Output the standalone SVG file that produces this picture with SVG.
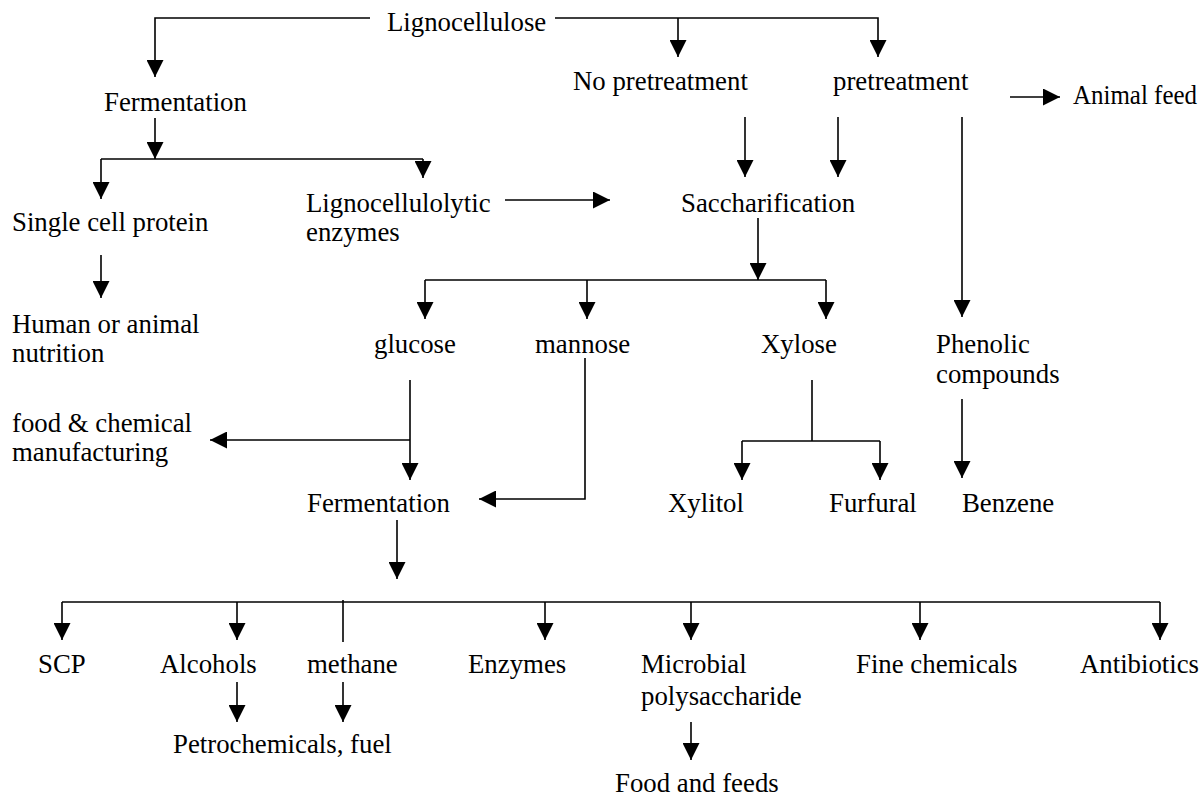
<svg xmlns="http://www.w3.org/2000/svg" width="1204" height="797" viewBox="0 0 1204 797">
<defs>
<style>
.c line,.c polyline{stroke:#000;stroke-width:1.6;fill:none}
.a{marker-end:url(#ah)}
</style>
<marker id="ah" markerUnits="userSpaceOnUse" markerWidth="17" markerHeight="17" viewBox="0 0 17 17" refX="17" refY="8.5" orient="auto">
<path d="M0,0 L17,8.5 L0,17 z" fill="#000"/>
</marker>
</defs>
<rect width="1204" height="797" fill="#fff"/>
<g class="c" id="connectors">
<polyline points="370,18 155,18 155,77" class="a"/>
<polyline points="555,18 878,18 878,57" class="a"/>
<line x1="678" y1="18" x2="678" y2="57" class="a"/>
<line x1="1010" y1="97" x2="1060" y2="97" class="a"/>
<line x1="155" y1="118" x2="155" y2="159" class="a"/>
<line x1="101" y1="159" x2="423" y2="159"/>
<line x1="101" y1="159" x2="101" y2="199" class="a"/>
<line x1="423" y1="159" x2="423" y2="178" class="a"/>
<line x1="101" y1="255" x2="101" y2="298" class="a"/>
<line x1="505" y1="200" x2="610" y2="200" class="a"/>
<line x1="745" y1="117" x2="745" y2="177" class="a"/>
<line x1="838" y1="117" x2="838" y2="177" class="a"/>
<line x1="962" y1="117" x2="962" y2="317" class="a"/>
<line x1="758" y1="218" x2="758" y2="280" class="a"/>
<line x1="425" y1="280" x2="826" y2="280"/>
<line x1="425" y1="280" x2="425" y2="319" class="a"/>
<line x1="587" y1="280" x2="587" y2="319" class="a"/>
<line x1="826" y1="280" x2="826" y2="319" class="a"/>
<line x1="410" y1="380" x2="410" y2="480" class="a"/>
<line x1="410" y1="440" x2="210" y2="440" class="a"/>
<polyline points="585,358 585,499 479,499" class="a"/>
<line x1="812" y1="380" x2="812" y2="441"/>
<line x1="742" y1="441" x2="880" y2="441"/>
<line x1="742" y1="441" x2="742" y2="480" class="a"/>
<line x1="880" y1="441" x2="880" y2="480" class="a"/>
<line x1="962" y1="399" x2="962" y2="478" class="a"/>
<line x1="397" y1="520" x2="397" y2="579" class="a"/>
<line x1="62" y1="602" x2="1160" y2="602"/>
<line x1="62" y1="602" x2="62" y2="640" class="a"/>
<line x1="237" y1="602" x2="237" y2="640" class="a"/>
<line x1="343" y1="600" x2="343" y2="642"/>
<line x1="545" y1="602" x2="545" y2="640" class="a"/>
<line x1="691" y1="602" x2="691" y2="640" class="a"/>
<line x1="920" y1="602" x2="920" y2="640" class="a"/>
<line x1="1160" y1="602" x2="1160" y2="640" class="a"/>
<line x1="237" y1="682" x2="237" y2="722" class="a"/>
<line x1="343" y1="682" x2="343" y2="722" class="a"/>
<line x1="691" y1="722" x2="691" y2="760" class="a"/>
</g>
<g id="labels" font-family="Liberation Serif, DejaVu Serif, serif" font-size="26.8" fill="#000">
<g id="n-lignocellulose"><text x="387" y="31">Lignocellulose</text></g>
<g id="n-fermentation1"><text x="104" y="111">Fermentation</text></g>
<g id="n-nopretreatment"><text x="573" y="90">No pretreatment</text></g>
<g id="n-pretreatment"><text x="833" y="90">pretreatment</text></g>
<g id="n-animalfeed"><text x="1073" y="104" textLength="124" lengthAdjust="spacingAndGlyphs">Animal feed</text></g>
<g id="n-scp1"><text x="12" y="231">Single cell protein</text></g>
<g id="n-ligninenz"><text x="306" y="212">Lignocellulolytic</text><text x="306" y="241">enzymes</text></g>
<g id="n-saccharification"><text x="681" y="212">Saccharification</text></g>
<g id="n-nutrition"><text x="12" y="333">Human or animal</text><text x="12" y="362">nutrition</text></g>
<g id="n-glucose"><text x="374" y="353">glucose</text></g>
<g id="n-mannose"><text x="535" y="353">mannose</text></g>
<g id="n-xylose"><text x="761" y="353">Xylose</text></g>
<g id="n-phenolic"><text x="936" y="353">Phenolic</text><text x="936" y="383">compounds</text></g>
<g id="n-foodchem"><text x="12" y="432">food &amp; chemical</text><text x="12" y="461">manufacturing</text></g>
<g id="n-fermentation2"><text x="307" y="512">Fermentation</text></g>
<g id="n-xylitol"><text x="668" y="512">Xylitol</text></g>
<g id="n-furfural"><text x="829" y="512">Furfural</text></g>
<g id="n-benzene"><text x="962" y="512">Benzene</text></g>
<g id="n-scp2"><text x="38" y="673">SCP</text></g>
<g id="n-alcohols"><text x="160" y="673">Alcohols</text></g>
<g id="n-methane"><text x="307" y="673">methane</text></g>
<g id="n-enzymes"><text x="468" y="673">Enzymes</text></g>
<g id="n-microbial"><text x="641" y="673">Microbial</text><text x="641" y="705">polysaccharide</text></g>
<g id="n-finechem"><text x="856" y="673">Fine chemicals</text></g>
<g id="n-antibiotics"><text x="1080" y="673" textLength="119" lengthAdjust="spacingAndGlyphs">Antibiotics</text></g>
<g id="n-petro"><text x="173" y="753">Petrochemicals, fuel</text></g>
<g id="n-foodfeeds"><text x="615" y="792">Food and feeds</text></g>
</g>
</svg>
